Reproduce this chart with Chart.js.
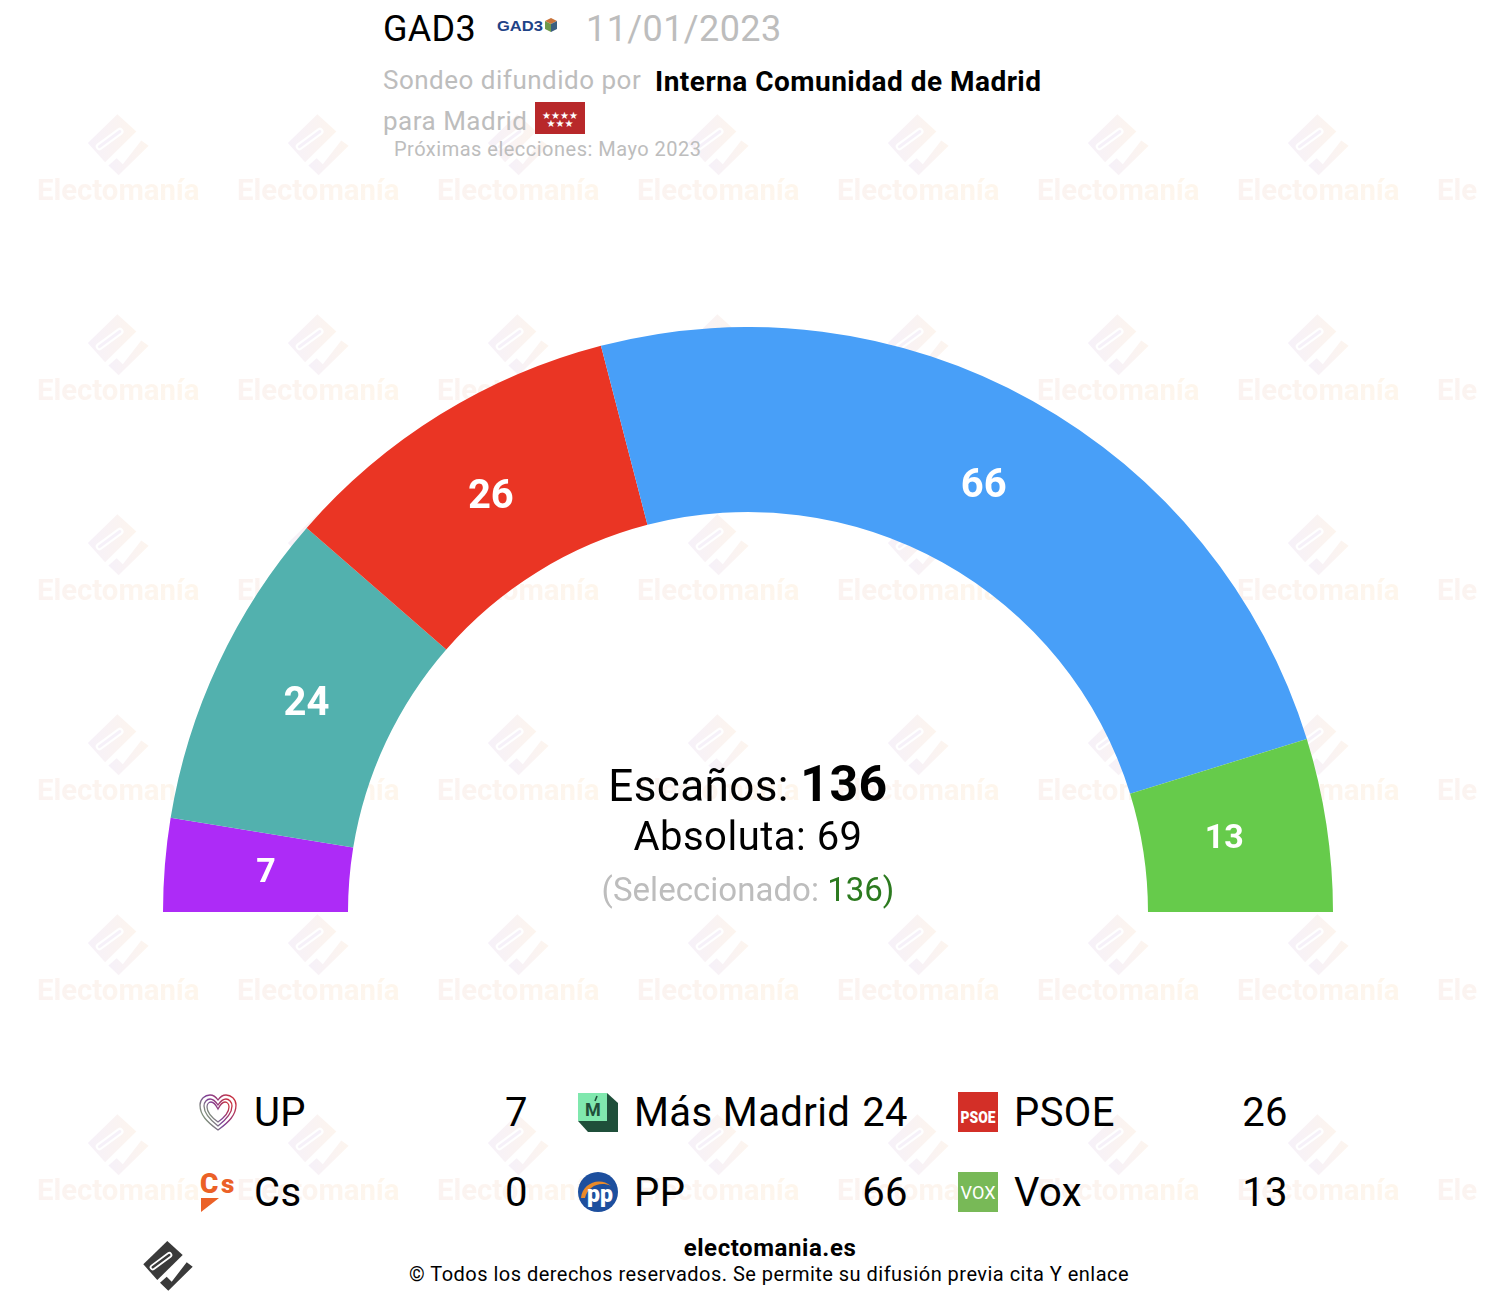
<!DOCTYPE html>
<html lang="es">
<head>
<meta charset="utf-8">
<title>GAD3 - Electomanía</title>
<script src="https://cdn.jsdelivr.net/npm/chart.js"></script>
<style>
  html, body { margin: 0; padding: 0; background: #fff; }
  body { width: 1494px; height: 1306px; position: relative; overflow: hidden; font-family: Roboto, sans-serif; color: #000; }
  .abs { position: absolute; white-space: nowrap; }
  #watermark { position: absolute; left: 17px; top: 100px; }
  #chartBox { position: absolute; left: 163px; top: 327px; width: 1170px; height: 585px; }
  .grey { color: #bdbdbd; }
  .center { left: 548px; width: 400px; text-align: center; }
  .legend-icon { position: absolute; width: 40px; height: 40px; }
  .legend-name, .legend-seats { position: absolute; font-size: 40px; line-height: 48px; letter-spacing: 0.4px; }
  .legend-seats { text-align: right; width: 100px; }
</style>
</head>
<body>

<svg width="0" height="0" style="position:absolute">
  <defs>
    <g id="emLogo">
      <path d="M24.3 1 39.7 15 14.3 40 .3 24.3Z"/>
      <path d="M17 42.7 23.7 36.7 28.7 41.7 43.7 22.3 49.7 26.7 25.3 50.7Z"/>
    </g>
    <linearGradient id="wmGrad" x1="0" x2="1" y1="0" y2="0">
      <stop offset="0" stop-color="#f6f1f9"/>
      <stop offset="1" stop-color="#fdf5ee"/>
    </linearGradient>
    <linearGradient id="wmText" gradientUnits="userSpaceOnUse" x1="20" x2="182" y1="0" y2="0">
      <stop offset="0" stop-color="#fbf3f1"/>
      <stop offset="1" stop-color="#fef6ec"/>
    </linearGradient>
    <pattern id="wmTile" width="200" height="200" patternUnits="userSpaceOnUse">
      <g transform="translate(70.5 13) scale(1.23)" fill="url(#wmGrad)">
        <use href="#emLogo"/>
        <path d="M9.7 27.3 26.3 15" stroke="#fff" stroke-width="6" stroke-linecap="round"/>
        <path d="M9.7 27.3 26.3 15" stroke="#f6f1f9" stroke-width="2.4" stroke-linecap="round"/>
      </g>
      <text x="20" y="100" font-family="Roboto" font-weight="700" font-size="29.3" fill="url(#wmText)">Electomanía</text>
    </pattern>
    <linearGradient id="upGrad" x1="1" x2="0" y1="0.2" y2="0.8">
      <stop offset="0" stop-color="#c8303f"/>
      <stop offset=".55" stop-color="#7d3f98"/>
      <stop offset="1" stop-color="#7fb86a"/>
    </linearGradient>
  </defs>
</svg>

<svg id="watermark" width="1460" height="1106"><rect width="1460" height="1106" fill="url(#wmTile)"/></svg>

<div class="abs" style="left:383px;top:8px;font-size:36px;line-height:42px;letter-spacing:0.3px">GAD3</div>
<svg class="abs" style="left:496px;top:16px" width="62" height="20">
  <text x="1" y="15" font-family="Liberation Sans" font-weight="700" font-size="15" textLength="46" lengthAdjust="spacingAndGlyphs" fill="#1f4387">GAD3</text>
  <path d="M49 5 55 2 61 5 55 8Z" fill="#c9743a"/>
  <path d="M49 5 55 8V16L49 13Z" fill="#6f9a4a"/>
  <path d="M61 5 55 8V16L61 13Z" fill="#3b5f80"/>
</svg>
<div class="abs grey" style="left:586px;top:8px;font-size:36px;line-height:42px;letter-spacing:0.4px">11/01/2023</div>

<div class="abs grey" style="left:383px;top:65px;font-size:26px;line-height:30px;letter-spacing:0.5px">Sondeo difundido por</div>
<div class="abs" style="left:655px;top:66px;font-size:28px;line-height:32px;font-weight:700;letter-spacing:0.48px">Interna Comunidad de Madrid</div>
<div class="abs grey" style="left:383px;top:106px;font-size:26px;line-height:30px;letter-spacing:0.5px">para Madrid</div>
<svg class="abs" style="left:535px;top:102px" width="50" height="32">
  <rect width="50" height="32" fill="#b8282a"/>
  <text x="25" y="17" text-anchor="middle" font-family="DejaVu Sans" font-size="10" fill="#fff">★★★★</text>
  <text x="25" y="25" text-anchor="middle" font-family="DejaVu Sans" font-size="10" fill="#fff">★★★</text>
</svg>
<div class="abs" style="left:394px;top:137px;font-size:20px;line-height:24px;color:#bdbdbd;letter-spacing:0.49px">Próximas elecciones: Mayo 2023</div>

<div id="chartBox"><canvas id="seatsChart" width="1170" height="585"></canvas></div>

<div class="abs center" style="top:754px;font-size:44px;line-height:60px;letter-spacing:0.4px">Escaños: <b style="font-size:50px;letter-spacing:0.5px">136</b></div>
<div class="abs center" style="top:813px;font-size:40px;line-height:48px;letter-spacing:0.5px">Absoluta: 69</div>
<div class="abs center grey" style="top:871px;font-size:33px;line-height:38px;letter-spacing:0.03px">(Seleccionado: <span style="color:#2c7a1f">136)</span></div>

<div id="legend"></div>

<svg class="abs" style="left:143px;top:1240px" width="52" height="52" fill="#3a3a3a">
  <use href="#emLogo"/>
  <path d="M9.7 27.3 26.3 15" stroke="#fff" stroke-width="6" stroke-linecap="round"/>
  <path d="M9.7 27.3 26.3 15" stroke="#3a3a3a" stroke-width="2.4" stroke-linecap="round"/>
</svg>
<div class="abs" style="left:420px;width:700px;text-align:center;top:1234px;font-size:24px;line-height:28px;font-weight:700;letter-spacing:0.57px">electomania.es</div>
<div class="abs" style="left:369px;width:800px;text-align:center;top:1262px;font-size:20px;line-height:24px;letter-spacing:0.48px">© Todos los derechos reservados. Se permite su difusión previa cita Y enlace</div>

<script>
// ===== DATA =====
const parties = ['UP', 'Más Madrid', 'PSOE', 'Cs', 'PP', 'Vox'];
const seats = [7, 24, 26, 0, 66, 13];
const partyColors = ['#ad2bf7', '#52b1ae', '#ea3524', '#eb6109', '#489ff8', '#66cb4b'];

// ===== LEGEND ICONS =====
const icons = {
    'UP': `<svg class="legend-icon" viewBox="0 0 40 40" style="LEFT" fill="none" stroke="url(#upGrad)" stroke-width="1.3">
        <path d="M20 38C9 30 2 23 2 13 2 7 7 3 12 3c4 0 6 2 8 5 2-3 4-5 8-5 5 0 10 4 10 10 0 10-7 17-18 25Z"/>
        <path d="M20 34C11 27 6 21 6 14 6 10 9 7 12 7c4 0 6 3 8 6 2-3 4-6 8-6 3 0 6 3 6 7 0 7-5 13-14 20Z"/>
        <path d="M20 30C13 25 9 20 9 15c0-3 2-5 4-5 3 0 5 3 7 7 2-4 4-7 7-7 2 0 4 2 4 5 0 5-4 10-11 15Z"/></svg>`,
    'Más Madrid': `<svg class="legend-icon" viewBox="0 0 40 40" style="LEFT">
        <path d="M29 1 40 11V40H10L0 29Z" fill="#1f4f3a"/>
        <rect y="1" width="29" height="28" fill="#80e8ae"/>
        <text x="15" y="24" text-anchor="middle" font-family="Roboto" font-weight="700" font-size="18" fill="#1f4f3a">M</text>
        <path d="M17 9 19 4" stroke="#1f4f3a" stroke-width="1.6"/></svg>`,
    'PSOE': `<svg class="legend-icon" viewBox="0 0 40 40" style="LEFT">
        <rect width="40" height="40" fill="#d32f27"/>
        <text x="20" y="31" text-anchor="middle" font-family="Roboto" font-weight="900" font-size="17" textLength="35" lengthAdjust="spacingAndGlyphs" fill="#fff">PSOE</text></svg>`,
    'Cs': `<svg class="legend-icon" viewBox="0 0 40 40" style="LEFT">
        <text x="2" y="21" font-family="Roboto" font-weight="900" font-size="28" fill="#eb6127">C</text>
        <text x="23" y="21" font-family="Roboto" font-weight="900" font-size="26" fill="#eb6127">s</text>
        <path d="M3 26 21 26 3 40Z" fill="#eb6127"/></svg>`,
    'PP': `<svg class="legend-icon" viewBox="0 0 40 40" style="LEFT">
        <circle cx="20" cy="20" r="20" fill="#1d4f9e"/>
        <path d="M3 26C4 12 21 4 33 14 22 9 10 14 7 26Z" fill="#e98a2a"/>
        <text x="22" y="30" text-anchor="middle" font-family="Roboto" font-weight="900" font-size="23" fill="#fff">pp</text></svg>`,
    'Vox': `<svg class="legend-icon" viewBox="0 0 40 40" style="LEFT">
        <rect width="40" height="40" fill="#78b957"/>
        <text x="20" y="27" text-anchor="middle" font-family="Roboto" font-size="18" textLength="35" lengthAdjust="spacingAndGlyphs" fill="#fff">VOX</text></svg>`
};

// ===== LEGEND =====
const legendBox = document.getElementById('legend');
parties.forEach(function(name, i) {
    const col = i % 3;
    const row = Math.floor(i / 3);
    const x = 198 + col * 380;
    const y = 1092 + row * 80;
    legendBox.insertAdjacentHTML('beforeend',
        icons[name].replace('LEFT', 'left:' + x + 'px;top:' + y + 'px') +
        '<div class="legend-name" style="left:' + (x + 56) + 'px;top:' + (y - 3) + 'px">' + name + '</div>' +
        '<div class="legend-seats" style="left:' + (x + 230) + 'px;top:' + (y - 3) + 'px">' + seats[i] + '</div>');
});

// ===== SEAT LABELS ON THE ARCS =====
const seatLabels = {
    id: 'seatLabels',
    afterDatasetsDraw(chart) {
        const ctx = chart.ctx;
        const arcs = chart.getDatasetMeta(0).data;
        const cx = arcs[0].x;
        const cy = arcs[0].y;
        ctx.save();
        ctx.fillStyle = '#fff';
        ctx.textAlign = 'center';
        ctx.textBaseline = 'middle';
        arcs.forEach(function(arc, i) {
            if (!seats[i]) return;
            // labels sit a little inside the middle of the ring
            const p = arc.getCenterPoint();
            const pull = seats[i] < 20 ? 0.98 : 0.988;
            ctx.font = '700 ' + (seats[i] < 20 ? 34 : 40) + 'px Roboto';
            ctx.fillText(String(seats[i]), cx + (p.x - cx) * pull - 1, cy + (p.y - cy) * pull);
        });
        ctx.restore();
    }
};

// ===== CHART =====
new Chart(document.getElementById('seatsChart'), {
    type: 'doughnut',
    data: {
        labels: parties,
        datasets: [{
            data: seats,
            backgroundColor: partyColors,
            borderWidth: 0
        }]
    },
    options: {
        responsive: false,
        animation: false,
        rotation: -90,
        circumference: 180,
        cutout: '68.376%',
        layout: { padding: 0 },
        plugins: {
            legend: { display: false },
            tooltip: { enabled: false }
        }
    },
    plugins: [seatLabels]
});
</script>
</body>
</html>
